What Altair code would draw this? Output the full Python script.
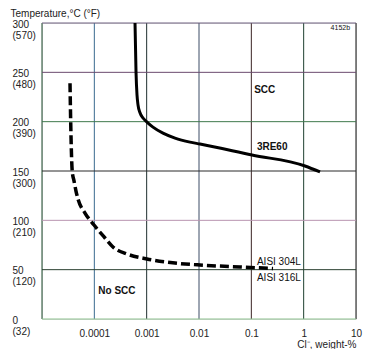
import json
import altair as alt
import pandas as pd

# --- data ---
re60_x = [0.000599, 0.000626, 0.000654, 0.000683, 0.000746, 0.000851, 0.001015, 0.00132, 0.00205, 0.00348,
          0.00673, 0.01046, 0.1031, 1.061, 2.053]
re60_t = [300, 250, 227, 217, 209, 203.7, 199.6, 194.5, 188.4, 183.4, 179.3, 177.3, 166.2, 155.1, 149]

aisi_x = [3.43e-5, 3.535e-5, 3.79e-5, 4.09e-5, 4.46e-5, 4.87e-5, 6.63e-5, 9.86e-5, 1.6e-4, 2.27e-4,
          4.21e-4, 0.001015, 0.00348, 0.01046, 0.0608, 0.26]
aisi_t = [239, 199.7, 149, 140, 129.7, 121.6, 107.4, 95.3, 82.1, 73, 65.9, 60.8, 56.7, 54.7, 52.7, 51.2]

x_tick_values = [0.0001, 0.001, 0.01, 0.1, 1, 10]
x_tick_labels = ["0.0001", "0.001", "0.01", "0.1", "1", "10"]

y_tick_values = [0, 50, 100, 150, 200, 250, 300]
y_labels_c = ["0", "50", "100", "150", "200", "250", "300"]
y_labels_f = ["(32)", "(120)", "(210)", "(300)", "(390)", "(480)", "(570)"]

vgrid_x = [1e-5, 0.0001, 0.001, 0.01, 0.1, 1, 10]
vgrid_c = ["#1d4a2c", "#3a6a90", "#1f2f2f", "#3d4d66", "#3a2424", "#1f4030", "#111111"]
hgrid_y = [0, 50, 100, 150, 200, 250, 300]
hgrid_c = ["#8cc08e", "#2a3f30", "#b894b0", "#2a2a2a", "#3f7a4c", "#6a4a6e", "#6e6080"]

ann_text = ["SCC", "3RE60", "No SCC"]
ann_x = [0.18, 0.25, 0.00027]
ann_t = [232, 174, 28]

aisi_lab_text = ["AISI 304L", "AISI 316L"]
aisi_lab_x = [0.128, 0.128]
aisi_lab_t = [58, 41.5]

code_text = ["4152b"]
code_x = [7.7]
code_t = [295]

FONT = "Liberation Sans"
TXT = "#222222"

xs = alt.Scale(type="log", domain=[1e-5, 10])
ys = alt.Scale(domain=[0, 300])

x_expr = "{}[indexof({}, datum.value)]".format(json.dumps(x_tick_labels), json.dumps(x_tick_values))
y_expr = "[{a}[indexof({v}, datum.value)], {b}[indexof({v}, datum.value)]]".format(
    a=json.dumps(y_labels_c), b=json.dumps(y_labels_f), v=json.dumps(y_tick_values))

xaxis = alt.Axis(values=x_tick_values, labelExpr=x_expr, grid=False, domain=False, ticks=False,
                 tickSize=0, labelFlush=False, labelPadding=14, labelBaseline="middle",
                 labelFont=FONT, labelFontSize=10, labelColor=TXT,
                 title="Cl⁻, weight-%", titleFont=FONT, titleFontSize=10, titleFontWeight="normal",
                 titleColor=TXT, titleAnchor="end", titleAlign="right", titleX=314, titleY=25,
                 titleBaseline="middle")
yaxis = alt.Axis(values=y_tick_values, labelExpr=y_expr, grid=False, domain=False, ticks=False,
                 tickSize=0, labelAlign="left", labelPadding=30, labelBaseline="middle",
                 labelLineHeight=11, labelOffset=1, labelFlush=False,
                 labelFont=FONT, labelFontSize=10, labelColor=TXT,
                 title="Temperature,°C (°F)", titleFont=FONT, titleFontSize=10, titleFontWeight="normal",
                 titleColor=TXT, titleAngle=0, titleAlign="left", titleX=-32, titleY=-15,
                 titleBaseline="top")

vg = pd.DataFrame({"x": vgrid_x, "c": vgrid_c})
hg = pd.DataFrame({"t": hgrid_y, "c": hgrid_c})
re60 = pd.DataFrame({"x": re60_x, "t": re60_t})
aisi = pd.DataFrame({"x": aisi_x, "t": aisi_t})
ann = pd.DataFrame({"x": ann_x, "t": ann_t, "s": ann_text})
alab = pd.DataFrame({"x": aisi_lab_x, "t": aisi_lab_t, "s": aisi_lab_text})
code = pd.DataFrame({"x": code_x, "t": code_t, "s": code_text})

X = lambda: alt.X("x:Q", scale=xs, axis=xaxis)
Y = lambda: alt.Y("t:Q", scale=ys, axis=yaxis)

vrule = alt.Chart(vg).mark_rule(strokeWidth=1).encode(x=X(), color=alt.Color("c:N", scale=None))
hrule = alt.Chart(hg).mark_rule(strokeWidth=1).encode(y=Y(), color=alt.Color("c:N", scale=None))

l1 = alt.Chart(re60).mark_line(color="#000000", strokeWidth=3, interpolate="monotone").encode(x=X(), y=Y())
l2 = alt.Chart(aisi).mark_line(color="#000000", strokeWidth=3.5, strokeDash=[9, 4],
                               interpolate="monotone").encode(x=X(), y=Y())

t1 = alt.Chart(ann).mark_text(font=FONT, fontSize=10, fontWeight="bold", color="#111111",
                              align="center", baseline="middle").encode(x=X(), y=Y(), text="s:N")
t2 = alt.Chart(alab).mark_text(font=FONT, fontSize=10, color="#111111",
                               align="left", baseline="middle").encode(x=X(), y=Y(), text="s:N")
t3 = alt.Chart(code).mark_text(font=FONT, fontSize=7, color="#111111",
                               align="right", baseline="middle").encode(x=X(), y=Y(), text="s:N")

chart = alt.layer(vrule, hrule, l1, l2, t1, t2, t3).properties(
    width=314, height=296,
    autosize=alt.AutoSizeParams(type="none"),
    padding={"left": 34, "top": 15, "right": 13, "bottom": 30},
).configure_view(stroke=None).configure(background="#ffffff")

chart.save("out.html", embed_options={"renderer": "svg", "actions": False})
